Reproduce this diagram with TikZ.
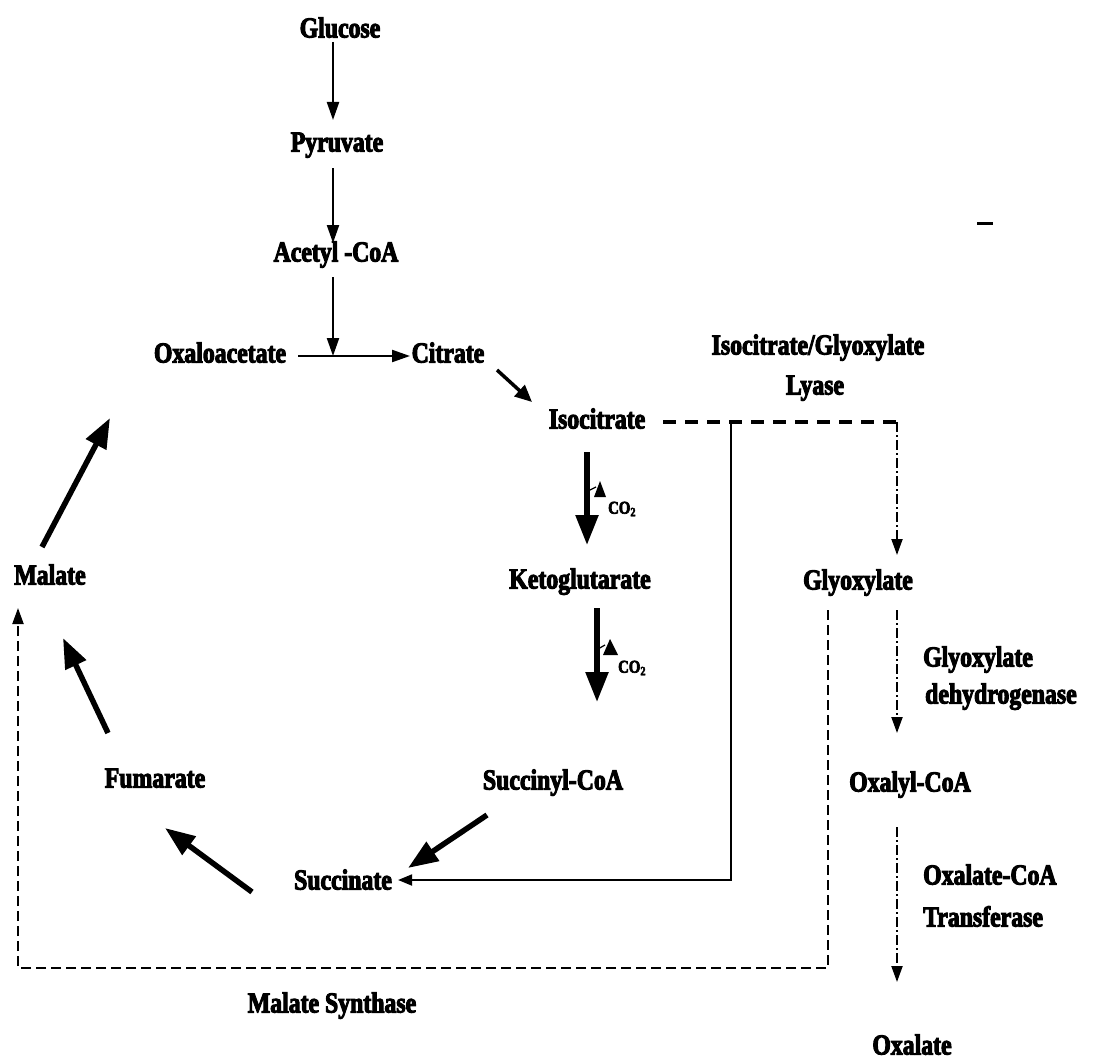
\documentclass[tikz,border=0pt]{standalone}
\usepackage{fontspec}
\setmainfont{Liberation Serif}[FakeStretch=0.82,FakeBold=3.5]
\usetikzlibrary{arrows.meta,calc}
\begin{document}
\begin{tikzpicture}[x=1pt,y=-1pt,
  txt/.style={font=\bfseries\fontsize{29}{33}\selectfont, inner sep=0pt, text height=19pt, text depth=6pt},
  small/.style={font=\bfseries\fontsize{18}{20}\selectfont, inner sep=0pt, anchor=west},
  thinarrow/.style={line width=2.2pt, -{Triangle[length=18pt,width=12pt]}},
  medarrow/.style={line width=3.5pt, -{Triangle[length=17pt,width=15pt]}},
  thickarrow/.style={line width=5.5pt, -{Triangle[length=30pt,width=22pt]}},
  lyaseline/.style={line width=4pt, dash pattern=on 13pt off 9pt},
  dashdot/.style={line width=2pt, dash pattern=on 10pt off 3pt on 2pt off 3pt, -{Triangle[length=16pt,width=11pt]}},
  synthline/.style={line width=2pt, dash pattern=on 10pt off 5pt, -{Triangle[length=16pt,width=11pt]}},
  plainline/.style={line width=2pt, -{Triangle[length=14pt,width=11pt]}}
]
\fill[white] (0,0) rectangle (1103,1062);
\useasboundingbox (0,0) rectangle (1103,1062);

% nodes
\node[txt] (glucose) at (340,31) {Glucose};
\node[txt] (pyruvate) at (337,145) {Pyruvate};
\node[txt] (acetyl) at (336,255) {Acetyl -CoA};
\node[txt] (oxalo) at (220,356) {Oxaloacetate};
\node[txt] (citrate) at (448,356) {Citrate};
\node[txt] (isocit) at (597,422) {Isocitrate};
\node[txt] (keto) at (580,582) {Ketoglutarate};
\node[txt] (succoa) at (553,783) {Succinyl-CoA};
\node[txt] (succ) at (343,883) {Succinate};
\node[txt] (fum) at (155,781) {Fumarate};
\node[txt] (mal) at (50,578) {Malate};
\node[txt] (glyox) at (858,583) {Glyoxylate};
\node[txt] (oxalyl) at (910,785) {Oxalyl-CoA};
\node[txt] (oxalate) at (912,1048) {Oxalate};
\node[txt] (lyase1) at (818,348) {Isocitrate/Glyoxylate};
\node[txt] (lyase2) at (815,388) {Lyase};
\node[txt, anchor=west] (gdh1) at (923,660) {Glyoxylate};
\node[txt, anchor=west] (gdh2) at (925,697) {dehydrogenase};
\node[txt, anchor=west] (oct1) at (923,878) {Oxalate-CoA};
\node[txt, anchor=west] (oct2) at (923,920) {Transferase};
\node[txt] (ms) at (332,1006) {Malate Synthase};
\node[small] (co2a) at (608,509) {CO\textsubscript{2}};
\node[small] (co2b) at (618,668) {CO\textsubscript{2}};

\coordinate (join) at (333,356);
\coordinate (branch) at (731,422);
\coordinate (corner) at (897,422);

% linear pathway
\draw[thinarrow] ($(glucose)+(-7,11)$) -- ($(pyruvate)+(-4,-25)$);
\draw[thinarrow] ($(pyruvate)+(-4,23)$) -- ($(acetyl)+(-3,-12)$);
\draw[thinarrow] ($(acetyl)+(-3,22)$) -- (join);
\draw[thinarrow] ($(oxalo)+(78,0)$) -- ($(citrate)+(-38,0)$);
\draw[medarrow] ($(citrate)+(49,14)$) -- ($(isocit)+(-65,-20)$);

% cycle
\draw[thickarrow] ($(isocit)+(-10,30)$) -- ($(keto)+(7,-37)$);
\draw[thickarrow] ($(keto)+(17,26)$) -- ($(succoa)+(44,-81)$);
\draw[thickarrow] ($(succoa)+(-66,32)$) -- ($(succ)+(65,-15)$);
\draw[thickarrow] ($(succ)+(-91,9)$) -- ($(fum)+(10,47)$);
\draw[thickarrow] ($(fum)+(-47,-48)$) -- ($(mal)+(13,60)$);
\draw[thickarrow] ($(mal)+(-8,-31)$) -- ($(oxalo)+(-110,62)$);

% CO2 release marks
\draw[line width=1.2pt] (588,491) -- (596,487);
\fill (594,497) -- (600,481) -- (606,497) -- cycle;
\draw[line width=1.2pt] (598,649) -- (605,645);
\fill (603,655) -- (610,639) -- (618,655) -- cycle;

% glyoxylate shunt
\draw[lyaseline] ($(isocit.east)+(18,0)$) -- (corner);
\draw[plainline] (branch) |- ($(succ.east)+(6,-3)$);
\draw[dashdot] (corner) -- ($(glyox)+(39,-28)$);
\draw[dashdot] ($(glyox)+(39,27)$) -- ($(oxalyl)+(-13,-52)$);
\draw[dashdot] ($(oxalyl)+(-13,42)$) -- ($(oxalate)+(-15,-66)$);
\draw[synthline] ($(glyox)+(-30,27)$) -- ++(0,358) -| ($(mal)+(-32,30)$);

% stray mark
\draw[line width=3pt] (977,223) -- (993,223);
\end{tikzpicture}
\end{document}
